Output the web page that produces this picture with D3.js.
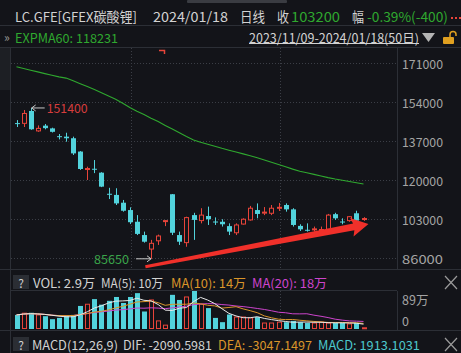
<!DOCTYPE html>
<html><head><meta charset="utf-8">
<script src="https://cdn.jsdelivr.net/npm/d3@7"></script>
<style>
html,body{margin:0;padding:0;background:#131419;overflow:hidden}
svg{display:block}
text{font-family:"Noto Sans CJK SC","Noto Sans",sans-serif}
</style></head><body><svg id="c" width="461" height="353"></svg>
<script>
// ---- data ----
const opens  = [144800,144700,150100,141400,143700,142500,139100,138900,138200,132400,
                124800,124900,123200,114000,113500,110100,106900,101800,96000,89900,
                93500,101900,113800,96000,92700,104700,102300,104300,101900,101800,
                99900,97000,100800,102600,106900,105700,105500,107800,109100,107200,
                100000,98300,98500,98200,98500,105100,101900,102300,105500,103000];
const highs  = [146100,150500,151400,143800,144400,142800,140050,140600,138900,132600,
                125800,128700,123400,116600,116400,111300,108100,104700,97500,93900,
                96200,102500,113900,97500,104000,105700,107700,108400,103700,102900,
                101100,101100,103300,108700,109800,108200,109100,110000,109800,107700,
                100700,101100,99700,99700,105200,105700,103300,104300,106600,103800];
const lows   = [143100,143100,141900,141000,142100,140700,137700,136700,130900,124400,
                120000,123000,116900,111700,109100,106200,100800,96000,92700,85650,
                91700,99900,96000,91700,90900,93900,101100,100400,100400,99700,
                96000,96000,100600,102300,103300,104700,104700,106500,106200,99700,
                97800,97500,97500,97500,98200,102600,100700,101800,101800,102200];
const closes = [144600,149000,142100,142500,142600,141000,138800,138200,131600,124800,
                125000,124700,117100,113600,109800,106600,101600,96500,93100,92400,
                95600,102300,97000,93100,103600,102600,104700,102900,101700,100700,
                97500,100400,102900,107700,105200,106000,107700,108100,107200,100400,
                98500,98100,98700,98400,104700,103300,101700,104000,102300,103200];
const volumes = [33,37,38,33,30,23,26,31,33,54,
                 58,70,57,66,75,61,75,84,41,68,
                 19,9,80,68,75,89,58,49,26,16,
                 34,28,28,26,28,14,14,16,16,19,
                 16,14,14,16,14,14,14,12,14,2.9]; // 万
const expma60 = [169390,168600,167860,167120,166380,165640,164940,164420,163240,161980,
                 160710,159400,158010,156620,155180,153480,151600,149950,148510,146940,
                 145460,143800,142190,140580,138960,137480,136480,135610,134730,133820,
                 132990,132200,131380,130590,129720,128760,127760,126760,125750,124750,
                 123840,123140,122440,121740,121050,120440,119910,119350,118780,118230];
const priceTicks = [171000,154000,137000,120000,103000,86000];
const volTicks = [89, 0];
const volTickLabels = ["89万", "0"];
const monthStartIdx = [16, 37];
const trendArrow = [[18.2, 82200],[49.7, 100800]]; // annotation (index, price)

// ---- colours ----
const BG="#131419", RED="#e8443a", CYAN="#52d3dc", GRN="#2fa82f", LINE="#2c2f36",
      GRID="#3b3e46", TXT="#d2d2d2", AX="#a4a4a4", ORG="#d9952a", MAG="#cc44cc";

const svg = d3.select("#c");
svg.append("rect").attr("width",461).attr("height",353).attr("fill",BG);

const n = closes.length;
const x = d3.scaleLinear().domain([0, n-1]).range([16.5, 363.5]);
const y = d3.scaleLinear().domain([86000,171000]).range([258,63]);
const yv = d3.scaleLinear().domain([0,89]).range([329,291]);
const bw = 5;

// ---- header rows ----
svg.append("rect").attr("x",187).attr("y",0).attr("width",100).attr("height",3).attr("fill","#3a3c42").attr("rx",1);
function txt(g, s, xx, yy, fill, size, len, anchor){
  const t = g.append("text").attr("x",xx).attr("y",yy).attr("fill",fill)
    .attr("font-size",size).attr("dominant-baseline","central").text(s);
  if(len) t.attr("textLength",len).attr("lengthAdjust","spacingAndGlyphs");
  if(anchor) t.attr("text-anchor",anchor);
  return t;
}
const hdr = svg.append("g");
txt(hdr,"LC.GFE[GFEX碳酸锂]",15,16,TXT,13.5,122);
txt(hdr,"2024/01/18",153,16,TXT,13.5,75);
txt(hdr,"日线",240,16,TXT,13.5,25);
txt(hdr,"收",277,16,TXT,13.5,12);
txt(hdr,"103200",291,16,GRN,13.5,49);
txt(hdr,"幅",352,16,TXT,13.5,12);
txt(hdr,"-0.39%(-400)",367,16,GRN,13.5,81);
[451,455,459].forEach(cx=>hdr.append("rect").attr("x",cx).attr("y",17).attr("width",2).attr("height",2).attr("fill",RED));
hdr.append("line").attr("x1",0).attr("x2",461).attr("y1",25.5).attr("y2",25.5).attr("stroke",LINE);
txt(hdr,"»",4,36,"#9a9a9a",12);
txt(hdr,"EXPMA60: "+d3.format("d")(expma60[n-1]+1),15,37,GRN,12.5,103);
txt(hdr,"2023/11/09-2024/01/18(50日)",249,37,TXT,12.5,170);
hdr.append("line").attr("x1",249).attr("x2",419).attr("y1",43.5).attr("y2",43.5).attr("stroke",TXT);
hdr.append("path").attr("d","M422,33L435,33L428.5,42Z").attr("fill","#b4b4b4");
// lock
hdr.append("rect").attr("x",443).attr("y",37).attr("width",11).attr("height",7).attr("fill","#e0a020").attr("rx",1);
hdr.append("path").attr("d","M450,37V34.5a3,3 0 0 1 6,0V36").attr("fill","none").attr("stroke","#e0a020").attr("stroke-width",1.5);
hdr.append("line").attr("x1",0).attr("x2",461).attr("y1",47.5).attr("y2",47.5).attr("stroke",LINE);

// ---- main panel ----
const main = svg.append("g");
main.append("rect").attr("x",0).attr("y",48).attr("width",10).attr("height",42).attr("fill","#1d1f24");
main.append("line").attr("x1",10.5).attr("x2",10.5).attr("y1",48).attr("y2",353).attr("stroke",LINE);
main.append("line").attr("x1",397.5).attr("x2",397.5).attr("y1",48).attr("y2",269).attr("stroke",LINE);
main.selectAll(".hg").data(priceTicks).enter().append("line")
  .attr("x1",11).attr("x2",397).attr("y1",d=>Math.round(y(d))+0.5).attr("y2",d=>Math.round(y(d))+0.5)
  .attr("stroke",GRID).attr("stroke-dasharray","1,2");
main.selectAll(".vg").data(monthStartIdx).enter().append("line")
  .attr("x1",d=>Math.round(x(d))+1.5).attr("x2",d=>Math.round(x(d))+1.5).attr("y1",48).attr("y2",268)
  .attr("stroke",GRID).attr("stroke-dasharray","1,2");
main.selectAll(".pt").data(priceTicks).enter().append("text")
  .attr("x",402).attr("y",d=>y(d)).attr("dominant-baseline","central")
  .attr("fill",AX).attr("font-size",12.5).attr("textLength",41).attr("lengthAdjust","spacingAndGlyphs")
  .text(d=>d);
// small marker at top
main.append("path").attr("d","M159,50.5H164.5V54").attr("fill","none").attr("stroke",RED).attr("stroke-width",1.5);

const clip = svg.append("clipPath").attr("id","mc").append("rect").attr("x",11).attr("y",48).attr("width",386).attr("height",221);
const plot = main.append("g").attr("clip-path","url(#mc)");

// EXPMA60
plot.append("path").datum(expma60)
  .attr("d", d3.line().x((d,i)=>x(i)).y(d=>y(d)))
  .attr("fill","none").attr("stroke",GRN).attr("stroke-width",1.1);

// candles
const idx = d3.range(n);
const up = i => closes[i] >= opens[i];
plot.selectAll(".wk").data(idx).enter().append("line")
  .attr("x1",i=>Math.round(x(i))+0.5).attr("x2",i=>Math.round(x(i))+0.5)
  .attr("y1",i=>y(highs[i])).attr("y2",i=>y(lows[i]))
  .attr("stroke",i=>up(i)?RED:CYAN).attr("stroke-width",1);
plot.selectAll(".bd").data(idx).enter().append("rect")
  .attr("x",i=>Math.round(x(i))-2+ (up(i)?0.5:0))
  .attr("y",i=>y(Math.max(opens[i],closes[i])))
  .attr("width",i=>up(i)?bw-1:bw)
  .attr("height",i=>Math.max(1,Math.abs(y(opens[i])-y(closes[i]))))
  .attr("fill",i=>up(i)?BG:CYAN)
  .attr("stroke",i=>up(i)?RED:"none").attr("stroke-width",1);

// high / low annotations
const hi = d3.maxIndex(highs), lo = d3.minIndex(lows);
const hx = x(hi), hy = y(highs[hi]);
plot.append("path").attr("d",`M${hx+1},${hy}H${hx+14}M${hx+1},${hy}l4,-3M${hx+1},${hy}l4,3`)
  .attr("stroke","#c8c8c8").attr("fill","none").attr("stroke-width",1);
txt(plot,String(highs[hi]),hx+16,hy,"#d63d3d",12.5,41);
const lx = x(lo), ly = y(lows[lo]);
plot.append("path").attr("d",`M${lx},${ly}H${lx-15}M${lx},${ly}l-4,-3M${lx},${ly}l-4,3`)
  .attr("stroke","#c8c8c8").attr("fill","none").attr("stroke-width",1);
txt(plot,String(lows[lo]),lx-22,ly,"#3aa54a",12.5,35,"end");

// trend arrow annotation
{
  const p0=[x(trendArrow[0][0]), y(trendArrow[0][1])], p1=[x(trendArrow[1][0]), y(trendArrow[1][1])];
  const dx=p1[0]-p0[0], dy=p1[1]-p0[1], L=Math.hypot(dx,dy);
  const ux=dx/L, uy=dy/L, nx=-uy, ny=ux;
  const hb=[p1[0]-ux*15, p1[1]-uy*15];
  const P=(p,k,m)=>[p[0]+nx*k+ux*m, p[1]+ny*k+uy*m];
  const pts=[P(p0,-1.5,0),P(hb,-3.5,0),P(hb,-9.5,-2),p1,P(hb,9.5,-2),P(hb,3.5,0),P(p0,1.5,0)];
  plot.append("path").attr("d","M"+pts.map(p=>p.join(",")).join("L")+"Z").attr("fill","#f0302a");
}

// ---- volume panel ----
const vp = svg.append("g");
vp.append("line").attr("x1",0).attr("x2",461).attr("y1",269.5).attr("y2",269.5).attr("stroke",LINE);
vp.append("rect").attr("x",13).attr("y",275).attr("width",16).attr("height",14).attr("fill","#2b2e34");
txt(vp,"?",21,282.5,TXT,12,null,"middle");
txt(vp,"VOL: 2.9万",33,282.5,TXT,12.5,62);
txt(vp,"MA(5): 10万",101,282.5,TXT,12.5,62);
txt(vp,"MA(10): 14万",171,282.5,ORG,12.5,75);
txt(vp,"MA(20): 18万",252,282.5,MAG,12.5,75);
vp.append("path").attr("d","M445,276L457,289M457,276L445,289").attr("stroke","#9a9a9a").attr("stroke-width",1.2);
vp.append("line").attr("x1",11).attr("x2",397).attr("y1",290.5).attr("y2",290.5).attr("stroke",LINE);
vp.append("line").attr("x1",397.5).attr("x2",397.5).attr("y1",291).attr("y2",330).attr("stroke",LINE);
vp.selectAll(".vg").data(monthStartIdx).enter().append("line")
  .attr("x1",d=>Math.round(x(d))+1.5).attr("x2",d=>Math.round(x(d))+1.5).attr("y1",291).attr("y2",329)
  .attr("stroke",GRID).attr("stroke-dasharray","1,2");
vp.selectAll(".vt").data(volTicks).enter().append("text")
  .attr("x",402).attr("y",(d,i)=>i===0?yv(d)+8:yv(d)-9).attr("dominant-baseline","central")
  .attr("fill",AX).attr("font-size",12.5).text((d,i)=>volTickLabels[i]);
vp.selectAll(".vb").data(idx).enter().append("rect")
  .attr("x",i=>Math.round(x(i))-2+(up(i)?0.5:0))
  .attr("y",i=>yv(volumes[i]))
  .attr("width",i=>up(i)?bw-1:bw)
  .attr("height",i=>Math.max(1,yv(0)-yv(volumes[i])-(up(i)?0.5:0)))
  .attr("fill",i=>up(i)?BG:CYAN)
  .attr("stroke",i=>up(i)?RED:"none");
function ma(k){ return volumes.map((v,i)=>d3.mean(volumes.slice(Math.max(0,i-k+1),i+1))); }
[[20,MAG],[10,ORG],[5,"#e8e8e8"]].forEach(([k,c])=>{
  vp.append("path").datum(ma(k)).attr("d",d3.line().x((d,i)=>x(i)).y(d=>yv(d)))
    .attr("fill","none").attr("stroke",c).attr("stroke-width",1);
});
vp.append("line").attr("x1",0).attr("x2",461).attr("y1",330.5).attr("y2",330.5).attr("stroke",LINE);

// ---- MACD header ----
const mp = svg.append("g");
mp.append("rect").attr("x",13).attr("y",337).attr("width",16).attr("height",14).attr("fill","#2b2e34");
txt(mp,"?",21,344.5,TXT,12,null,"middle");
txt(mp,"MACD(12,26,9)",32,344,TXT,12.5,86);
txt(mp,"DIF: -2090.5981",123,344,TXT,12.5,89);
txt(mp,"DEA: -3047.1497",218,344,ORG,12.5,94);
txt(mp,"MACD: 1913.1031",318,344,"#4cc6cc",12.5,102);
mp.append("path").attr("d","M445,338L457,351M457,338L445,351").attr("stroke","#9a9a9a").attr("stroke-width",1.2);
</script></body></html>
